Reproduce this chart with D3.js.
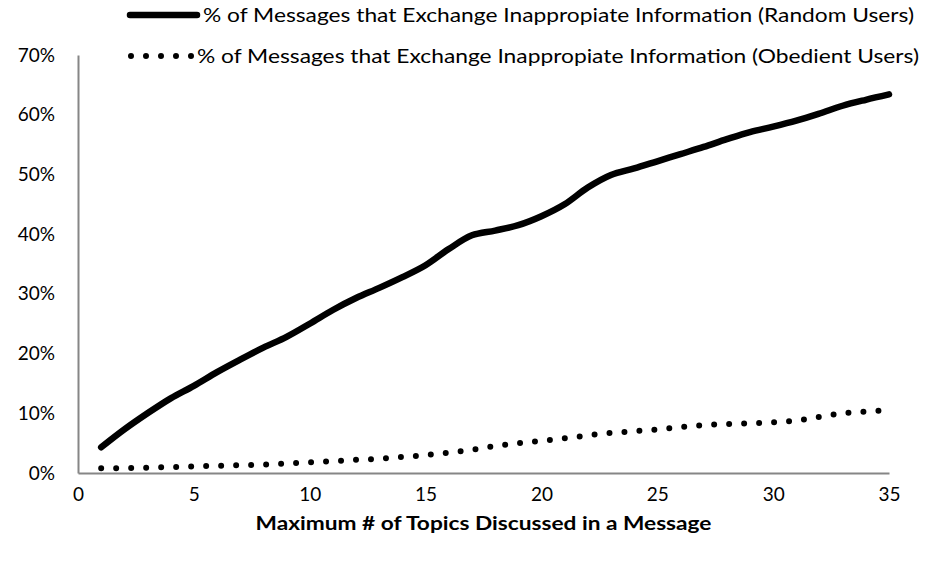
<!DOCTYPE html>
<html>
<head>
<meta charset="utf-8">
<script src="https://cdn.jsdelivr.net/npm/d3@7"></script>
<style>
  body { margin: 0; background: #fff; }
  text { font-family: Lato, "Open Sans", sans-serif; fill: #000; }
</style>
</head>
<body>
<div id="chart"></div>
<script>
// x values: maximum number of topics discussed in a message
var topics = d3.range(1, 36)

// % of messages exchanging inappropriate information, random users
var randomUsers = [4.3, 7.3, 10.0, 12.5, 14.6, 16.9, 19.0, 21.0, 22.8, 25.0,
  27.3, 29.3, 31.0, 32.8, 34.8, 37.5, 39.8, 40.6, 41.5, 43.0,
  45.0, 47.8, 49.9, 51.0, 52.2, 53.4, 54.6, 55.9, 57.1, 58.0,
  59.0, 60.2, 61.5, 62.5, 63.4]

// same, obedient users
var obedientUsers = [0.8, 0.8, 0.9, 1.0, 1.1, 1.2, 1.3, 1.4, 1.6, 1.8,
  2.0, 2.2, 2.4, 2.7, 3.0, 3.4, 3.9, 4.5, 5.0, 5.4,
  5.8, 6.3, 6.7, 7.0, 7.3, 7.7, 8.0, 8.2, 8.3, 8.5,
  8.8, 9.4, 10.0, 10.3, 10.5]

var xTicks = [0, 5, 10, 15, 20, 25, 30, 35]
var yTicks = [0, 10, 20, 30, 40, 50, 60, 70]
var seriesNames = [
  "% of Messages that Exchange Inappropiate Information (Random Users)",
  "% of Messages that Exchange Inappropiate Information (Obedient Users)"
]
var xTitle = "Maximum # of Topics Discussed in a Message"

var width = 925, height = 563

var svg = d3.select("#chart")
  .append("svg")
    .attr("width", width)
    .attr("height", height)

var x = d3.scaleLinear().domain([0, 35]).range([78, 889])
var y = d3.scaleLinear().domain([0, 70]).range([473, 55])

// axes: no tick marks, grey axis line
var xAxis = svg.append("g")
  .attr("transform", "translate(0," + y(0) + ")")
  .call(d3.axisBottom(x).tickValues(xTicks).tickSize(0).tickPadding(15))
xAxis.select(".domain").attr("stroke", "#868686").attr("stroke-width", 2)
xAxis.selectAll("text").style("font-size", "19px")

var yAxis = svg.append("g")
  .attr("transform", "translate(" + x(0) + ",0)")
  .call(d3.axisLeft(y).tickValues(yTicks).tickSize(0).tickPadding(23)
    .tickFormat(function(d){ return d + "%" }))
yAxis.select(".domain").attr("stroke", "#868686").attr("stroke-width", 2)
yAxis.selectAll("text").style("font-size", "19px")

svg.append("text")
  .attr("x", x(17.5))
  .attr("y", 523)
  .attr("text-anchor", "middle")
  .attr("dy", "0.35em")
  .style("font-size", "19px")
  .style("font-weight", 700)
  .attr("textLength", 456)
  .attr("lengthAdjust", "spacingAndGlyphs")
  .text(xTitle)

var line = d3.line()
  .x(function(d){ return x(d[0]) })
  .y(function(d){ return y(d[1]) })
  .curve(d3.curveCatmullRom.alpha(0.5))

svg.append("path")
  .datum(topics.map(function(t, i){ return [t, randomUsers[i]] }))
  .attr("d", line)
  .attr("fill", "none")
  .attr("stroke", "#000")
  .attr("stroke-width", 6.5)
  .attr("stroke-linecap", "round")

svg.append("path")
  .datum(topics.map(function(t, i){ return [t, obedientUsers[i]] }))
  .attr("d", line)
  .attr("fill", "none")
  .attr("stroke", "#000")
  .attr("stroke-width", 6)
  .attr("stroke-linecap", "round")
  .attr("stroke-dasharray", "0,15")

// legend
var legend = svg.append("g")
legend.append("line")
  .attr("x1", 130).attr("x2", 197)
  .attr("y1", 15).attr("y2", 15)
  .attr("stroke", "#000").attr("stroke-width", 6.5)
  .attr("stroke-linecap", "round")
legend.append("line")
  .attr("x1", 131).attr("x2", 192)
  .attr("y1", 56).attr("y2", 56)
  .attr("stroke", "#000").attr("stroke-width", 6)
  .attr("stroke-linecap", "round")
  .attr("stroke-dasharray", "0,15")

legend.selectAll("text.leg")
  .data(seriesNames)
  .enter()
  .append("text")
    .attr("class", "leg")
    .attr("x", function(d, i){ return i == 0 ? 203 : 197 })
    .attr("y", function(d, i){ return i == 0 ? 15 : 56 })
    .attr("dy", "0.35em")
    .attr("textLength", function(d, i){ return i == 0 ? 711 : 722 })
    .attr("lengthAdjust", "spacingAndGlyphs")
    .style("font-size", "19px")
    .text(function(d){ return d })
</script>
</body>
</html>
